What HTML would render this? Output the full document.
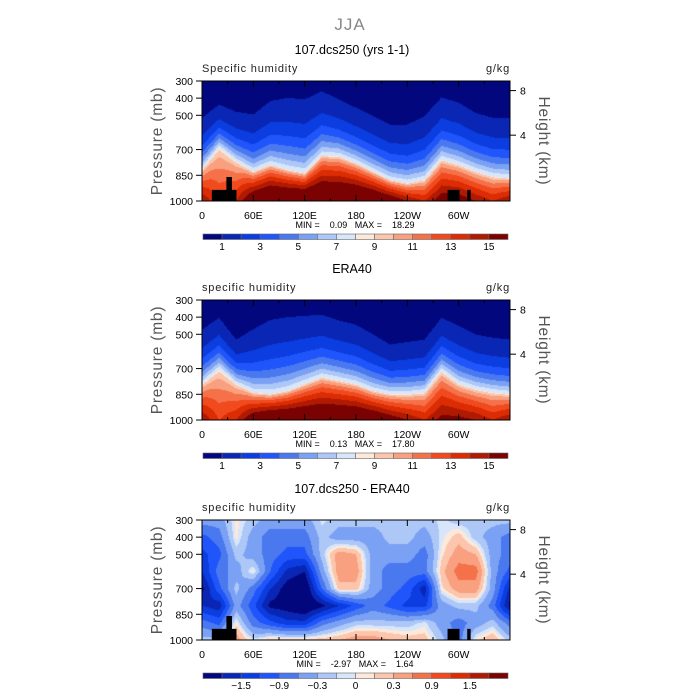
<!DOCTYPE html>
<html><head><meta charset="utf-8">
<style>
body{margin:0;background:#fff;}
svg text{font-family:"Liberation Sans",sans-serif;}
</style></head>
<body>
<div style="position:relative;width:700px;height:700px;overflow:hidden">
<canvas id="c1" width="308" height="120" style="position:absolute;left:202px;top:81px"></canvas>
<canvas id="c2" width="308" height="120" style="position:absolute;left:202px;top:300px"></canvas>
<canvas id="c3" width="308" height="120" style="position:absolute;left:202px;top:520px"></canvas>
<svg id="ov" width="700" height="700" style="position:absolute;left:0;top:0"></svg>
</div>
<script>
// ---- data ----
const lons = [0,20,40,60,80,100,120,140,160,180,200,220,240,260,280,300,320,340,360];
// panel 1: pressure of q=1 contour, q=8 contour, surface q
const m_p1 = [515,437,480,495,417,398,407,360,407,456,505,554,554,505,395,427,486,515,515];
const m_p8 = [818,690,770,828,789,818,838,735,740,779,828,877,897,877,760,789,828,858,867];
const m_qs = [15,13,14,17,18,18,18,18,18,18,17.5,16.5,15,14,16,16,15,14,15];
// panel 2 (ERA40)
const e_p1 = [473,404,531,470,416,400,392,387,420,445,500,560,545,531,404,450,502,520,531];
const e_p8 = [792,705,790,840,850,830,790,751,770,792,830,850,850,840,716,790,821,840,850];
const e_qs = [15,13,14,16.5,17.5,17.5,17.5,17.5,17.5,17.5,17,16,15,14,15.5,15.5,15,14,15];
// panel 3 difference grid (rows = pressures)
const dPres = [300,400,500,600,700,800,900,1000];
const dVals = [
 [-0.45,-0.45,0.05,-0.2,-0.45,-0.45,-0.45,-0.05,-0.2,-0.2,-0.2,-0.2,-0.2,-0.2,-0.05,-0.2,-0.2,-0.2,-0.2],
 [-1.0,-0.75,0.05,-0.45,-0.75,-0.75,-0.75,-0.2,-0.45,-0.45,-0.45,-0.2,-0.2,-0.45,-0.05,0.2,-0.2,-0.45,-0.75],
 [-1.3,-1.0,-0.2,-0.45,-0.75,-1.0,-1.0,-0.2,0.45,0.3,-0.45,-0.45,-0.45,-0.75,0.05,0.45,0.3,-0.45,-0.75],
 [-1.5,-0.75,-0.45,0.05,-0.9,-1.6,-1.8,-0.45,0.45,0.45,-0.45,-0.75,-0.75,-0.75,0.2,0.75,0.75,-0.45,-1.0],
 [-1.9,-1.0,-0.2,-0.75,-1.5,-2.0,-2.2,-0.9,0.2,0.2,-0.45,-0.75,-1.0,-1.7,0.05,0.45,0.45,-0.45,-1.6],
 [-1.5,-1.7,-0.45,-1.1,-1.9,-2.0,-2.2,-1.9,-1.5,-1.1,-0.75,-1.0,-1.3,-1.3,-0.45,-0.2,-0.2,-0.75,-1.9],
 [-0.75,-1.0,0.05,-0.75,-1.1,-1.4,-1.4,-0.75,-0.45,-0.2,-0.2,-0.2,-0.2,-0.05,-0.45,-0.75,-0.45,-0.2,-0.75],
 [-0.2,-0.2,0.45,-0.05,0.2,0.2,0.2,0.2,0.3,0.45,0.45,0.3,0.2,0.2,-0.2,-0.75,0.05,0.3,-0.2]
];
const lev1 = [1,2,3,4,5,6,7,8,9,10,11,12,13,14,15];
const lev3 = [-1.8,-1.5,-1.2,-0.9,-0.6,-0.3,-0.1,0,0.1,0.3,0.6,0.9,1.2,1.5,1.8];
const cbLab1 = ["1","3","5","7","9","11","13","15"];
const cbLabIdx1 = [0,2,4,6,8,10,12,14];
const cbLab3 = ["-1.5","-0.9","-0.3","0","0.3","0.9","1.5"];
const cbLabIdx3 = [1,3,5,7,9,11,13];
const presTicks = [300,400,500,700,850,1000];
const xTickLab = ["0","60E","120E","180","120W","60W"];
const xTickLon = [0,60,120,180,240,300];
const hgtTicks = [8,4];
const hgtP = [356,616];
// mountains [lon0, lon1, ptop]
const mountains = [[11.5,40.3,935],[28.5,35,860],[287,301,935],[310,314,935]];
const colors = ["#03077e","#0a26b4","#0b3de0","#1f55fa","#4a78ef","#7aa1f4","#adc7f7","#d7e6fa","#fde9da","#fbc6ad","#f8a07f","#f5714a","#f14a1e","#db2c04","#b01a02","#7b0202"];
const titles = ["107.dcs250 (yrs 1-1)","ERA40","107.dcs250 - ERA40"];
const left = ["Specific humidity","specific humidity","specific humidity"];
const minmax = [["0.09","18.29"],["0.13","17.80"],["-2.97","1.64"]];
// ---- helpers ----
const X0=202,W=308,H=120;
function xs(lon){return X0+lon/360*W;}
function ys(p,top){return top+(p-300)/700*H;}
function interpArr(arr,lon){
  const i=Math.min(lons.length-2,Math.floor(lon/20)); const t=(lon-lons[i])/20;
  return arr[i]*(1-t)+arr[i+1]*t;
}
function qModel(p1,p8,qs,lon,p){
  const a=interpArr(p1,lon),b=interpArr(p8,lon),s=interpArr(qs,lon);
  const l8=Math.log(8);
  if(p<=b){ return Math.exp((p-a)/(b-a)*l8); }
  const f=Math.pow((p-b)/(1000-b),0.45);
  return Math.exp(l8+f*(Math.log(s)-l8));
}
function dField(lon,p){
  let j=0; while(j<dPres.length-2 && p>dPres[j+1]) j++;
  const u=Math.max(0,Math.min(1,(p-dPres[j])/(dPres[j+1]-dPres[j])));
  const r0=interpArr(dVals[j],lon), r1=interpArr(dVals[j+1],lon);
  return r0*(1-u)+r1*u;
}
function colIdx(v,lev){let k=0;while(k<lev.length&&v>=lev[k])k++;return k;}
function hex(c){return [parseInt(c.slice(1,3),16),parseInt(c.slice(3,5),16),parseInt(c.slice(5,7),16)];}
const rgb=colors.map(hex);
function paint(id,fn,lev){
  const cv=document.getElementById(id),ctx=cv.getContext('2d');
  const img=ctx.createImageData(W,H);
  for(let y=0;y<H;y++)for(let x=0;x<W;x++){
    const lon=(x+0.5)/W*360,p=300+(y+0.5)/H*700;
    const c=rgb[colIdx(fn(lon,p),lev)];const o=(y*W+x)*4;
    img.data[o]=c[0];img.data[o+1]=c[1];img.data[o+2]=c[2];img.data[o+3]=255;
  }
  ctx.putImageData(img,0,0);
}
paint('c1',(l,p)=>qModel(m_p1,m_p8,m_qs,l,p),lev1);
paint('c2',(l,p)=>qModel(e_p1,e_p8,e_qs,l,p),lev1);
paint('c3',dField,lev3);
// ---- overlay ----
const NS="http://www.w3.org/2000/svg",ov=document.getElementById('ov');
function el(tag,attrs,txt){const e=document.createElementNS(NS,tag);for(const k in attrs)e.setAttribute(k,attrs[k]);if(txt!==undefined)e.textContent=txt;ov.appendChild(e);return e;}
let t=el('text',{x:350,y:30,'font-size':17,fill:'#888','text-anchor':'middle','letter-spacing':'1'},'JJA');


const tops=[81,300,520];
for(let k=0;k<3;k++){
  const top=tops[k],off=top-81,bot=top+H;
  const hasMtn=(k!==1);
  if(hasMtn){mountains.forEach(m=>{
    const r=el('rect',{x:xs(m[0]),y:ys(m[2],top),width:xs(m[1])-xs(m[0]),height:bot-ys(m[2],top),fill:'#000'});
    
    
  });}
  const fr=el('rect',{x:X0,y:top,width:W,height:H,fill:'none',stroke:'#000','stroke-width':1});
  
  
  t=el('text',{x:352,y:54+off,'font-size':12.5,fill:'#000','text-anchor':'middle'},titles[k]);
  
  
  t=el('text',{x:202,y:72+off,'font-size':11,fill:'#222','letter-spacing':'0.8'},left[k]);
  
  
  t=el('text',{x:510,y:72+off,'font-size':11,fill:'#222','text-anchor':'end','letter-spacing':'0.8'},'g/kg');
  
  
  presTicks.forEach(p=>{
    const y=ys(p,top);
    el('line',{x1:196,x2:202,y1:y,y2:y,stroke:'#000'});
    t=el('text',{x:193,y:y+4,'font-size':10.5,fill:'#000','text-anchor':'end'},String(p));
    
    
  });
  for(let lon=30;lon<360;lon+=30){
    const x=xs(lon),len=(lon%60===0)?6:3;
    el('line',{x1:x,x2:x,y1:bot,y2:bot-len,stroke:'#000'});
    el('line',{x1:x,x2:x,y1:top,y2:top+len,stroke:'#000'});
  }
  xTickLab.forEach((s,i)=>{
    t=el('text',{x:xs(xTickLon[i]),y:bot+18,'font-size':10.5,fill:'#000','text-anchor':'middle'},s);
    
    
  });
  hgtTicks.forEach((h,i)=>{
    const y=ys(hgtP[i],top);
    el('line',{x1:510,x2:516,y1:y,y2:y,stroke:'#000'});
    t=el('text',{x:520,y:y+4,'font-size':10.5,fill:'#000'},String(h));
    
    
  });
  t=el('text',{x:0,y:0,'font-size':15.5,fill:'#555','text-anchor':'middle','letter-spacing':'0.8',transform:`translate(162,${top+60}) rotate(-90)`},'Pressure (mb)');
  
  
  t=el('text',{x:0,y:0,'font-size':15.5,fill:'#555','text-anchor':'middle','letter-spacing':'0.8',transform:`translate(539,${top+60}) rotate(90)`},'Height (km)');
  
  
  t=el('text',{x:355,y:bot+27,'font-size':9,fill:'#000','text-anchor':'middle',style:'white-space:pre'},'MIN =    '+minmax[k][0]+'   MAX =    '+minmax[k][1]);
  
  
  // colorbar
  const cy=234+off,cw=305/16;
  colors.forEach((c,i)=>{
    const r=el('rect',{x:203+i*cw,y:cy,width:cw,height:5.5,fill:c,stroke:'#666','stroke-width':0.6});
    
    
  });
  const labs=k===2?cbLab3:cbLab1, idx=k===2?cbLabIdx3:cbLabIdx1;
  labs.forEach((s,i)=>{
    t=el('text',{x:203+(idx[i]+1)*cw,y:cy+16,'font-size':10,fill:'#000','text-anchor':'middle'},s.replace('-','\u2212'));
    
    
  });
}
</script>
</body></html>
